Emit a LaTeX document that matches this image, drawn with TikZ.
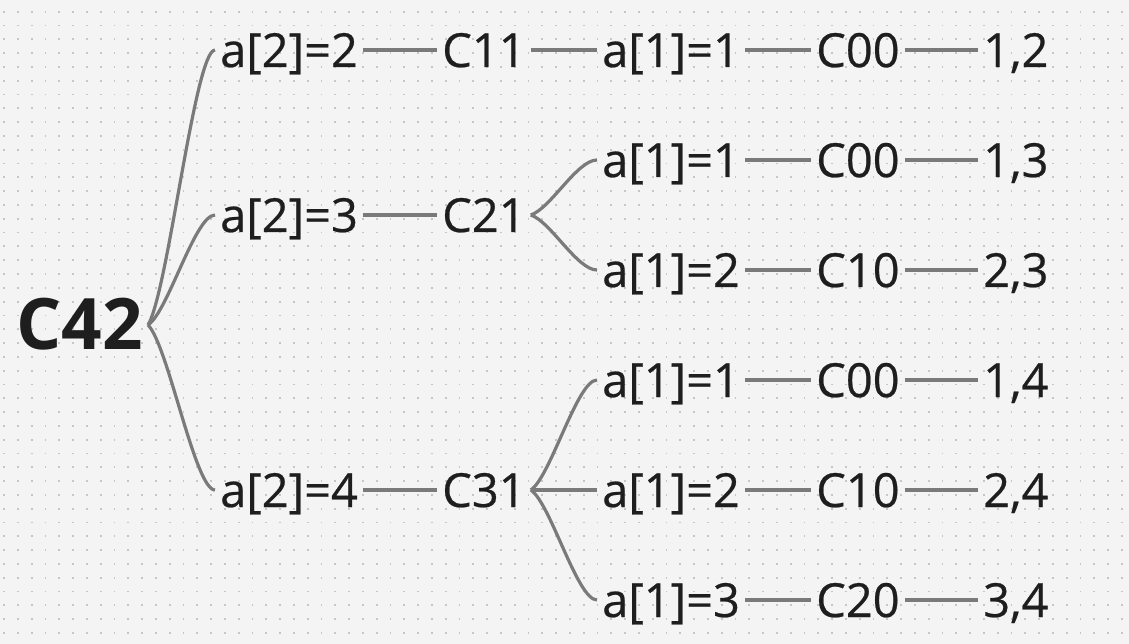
\documentclass[tikz,border=0pt]{standalone}
\usepackage{fontspec}
\setmainfont{Open Sans}
\newfontfamily\termfont{Open Sans}[FakeBold=0.5]
\usetikzlibrary{calc}
\definecolor{paper}{HTML}{F4F4F4}
\definecolor{dotgray}{HTML}{C6C6C6}
\definecolor{ink}{HTML}{1E1E1E}
\definecolor{wiregray}{HTML}{7A7A7A}
\begin{document}
\begin{tikzpicture}[x=1pt,y=-1pt,
grid-dots/.style = {draw=dotgray, line width=1.8pt, dash pattern=on 1.8pt off 12pt},
term/.style = {anchor=west, inner xsep=5pt, inner ysep=0pt, text height=34pt, text depth=0pt, text=ink, font=\termfont\fontsize{47}{56}\selectfont},
root/.style = {term, anchor=east, text height=48pt, font=\fontsize{71}{80}\selectfont\bfseries},
wire/.style = {draw=wiregray, line width=3.2pt},
branch/.style = {wire, to path={let \p1=(\tikztostart), \p2=(\tikztotarget) in
    .. controls ($(\p1)+({0.3*(\x2-\x1)},{0.12*(\y2-\y1)})$) and ($(\p2)-({0.3*(\x2-\x1)},0)$) .. (\tikztotarget) \tikztonodes}}
]
\useasboundingbox (0,0) rectangle (1129,644);
\fill[paper] (0,0) rectangle (1129,644);
\foreach \j in {0,...,45}
    \draw[grid-dots] (3.1,11.8+13.8*\j) -- (1129,11.8+13.8*\j);
\node[root] (c42) at (148,325) {C42};
\node[term] (a22) at (215,50) {a[2]=2};
\node[term] (a23) at (215,215) {a[2]=3};
\node[term] (a24) at (215,490) {a[2]=4};
\node[term] (c11) at (437,50) {C11};
\node[term] (c21) at (437,215) {C21};
\node[term] (c31) at (437,490) {C31};
\node[term] (k1) at (597,50) {a[1]=1};
\node[term] (k2) at (597,160) {a[1]=1};
\node[term] (k3) at (597,270) {a[1]=2};
\node[term] (k4) at (597,380) {a[1]=1};
\node[term] (k5) at (597,490) {a[1]=2};
\node[term] (k6) at (597,600) {a[1]=3};
\node[term] (s1) at (811,50) {C00};
\node[term] (s2) at (811,160) {C00};
\node[term] (s3) at (811,270) {C10};
\node[term] (s4) at (811,380) {C00};
\node[term] (s5) at (811,490) {C10};
\node[term] (s6) at (811,600) {C20};
\node[term] (r1) at (978,50) {1,2};
\node[term] (r2) at (978,160) {1,3};
\node[term] (r3) at (978,270) {2,3};
\node[term] (r4) at (978,380) {1,4};
\node[term] (r5) at (978,490) {2,4};
\node[term] (r6) at (978,600) {3,4};
\draw[branch] (c42.east) to (a22.west);
\draw[branch] (c42.east) to (a23.west);
\draw[branch] (c42.east) to (a24.west);
\draw[wire] (a22) -- (c11);
\draw[wire] (a23) -- (c21);
\draw[wire] (a24) -- (c31);
\draw[wire] (c11) -- (k1);
\draw[branch] (c21.east) to (k2.west);
\draw[branch] (c21.east) to (k3.west);
\draw[branch] (c31.east) to (k4.west);
\draw[wire] (c31) -- (k5);
\draw[branch] (c31.east) to (k6.west);
\draw[wire] (k1) -- (s1);
\draw[wire] (k2) -- (s2);
\draw[wire] (k3) -- (s3);
\draw[wire] (k4) -- (s4);
\draw[wire] (k5) -- (s5);
\draw[wire] (k6) -- (s6);
\draw[wire] (s1) -- (r1);
\draw[wire] (s2) -- (r2);
\draw[wire] (s3) -- (r3);
\draw[wire] (s4) -- (r4);
\draw[wire] (s5) -- (r5);
\draw[wire] (s6) -- (r6);
\end{tikzpicture}
\end{document}
